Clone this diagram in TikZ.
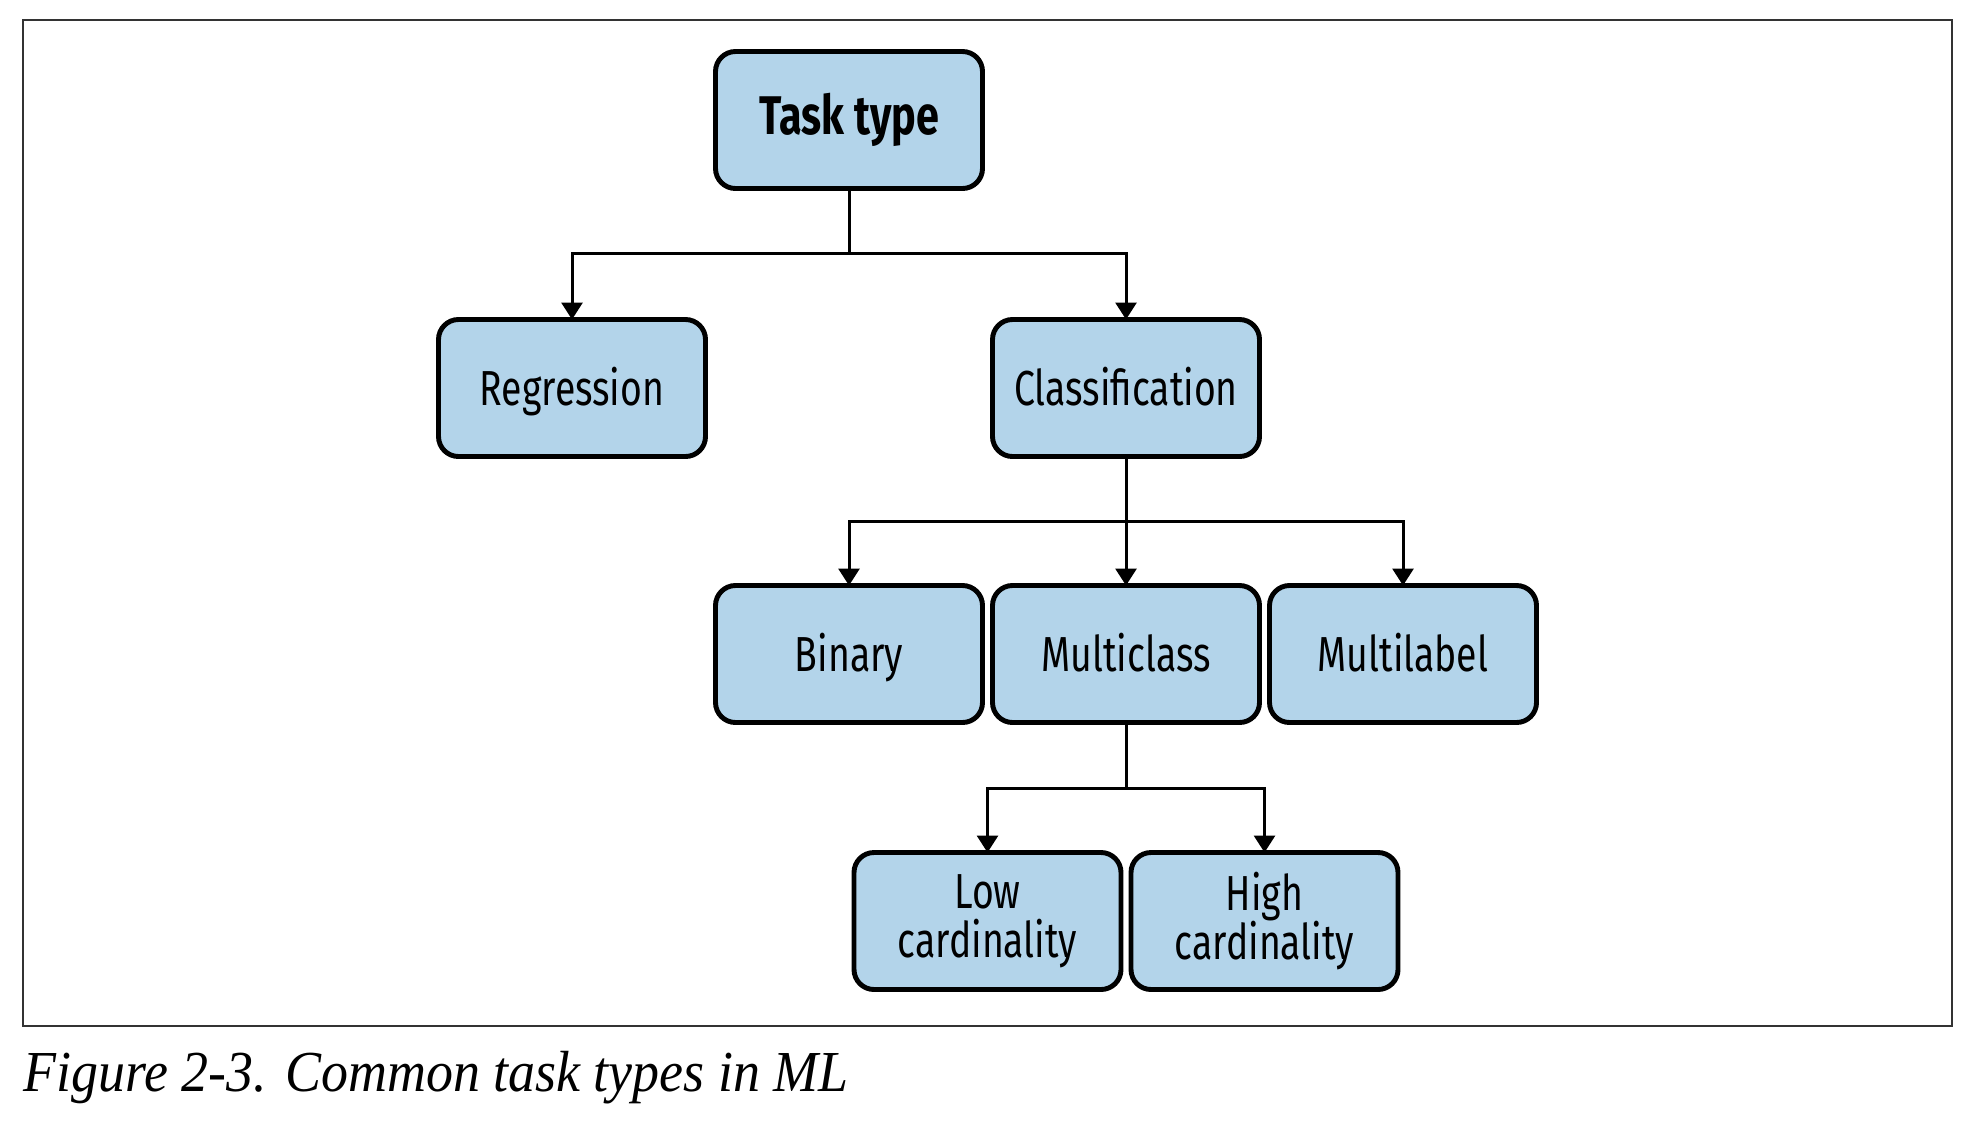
\documentclass[tikz,border=0pt]{standalone}
\usepackage{fontspec}
\usepackage{tikz}
\usetikzlibrary{arrows.meta, positioning}

\newfontfamily\boxfont[FakeStretch=0.76]{Fira Sans}
\newfontfamily\capfont[FakeStretch=0.93]{Liberation Serif}
\definecolor{boxblue}{RGB}{179,212,234}

\begin{document}
\begin{tikzpicture}[
    box/.style={rectangle, draw, fill=boxblue, line width=1.4pt, rounded corners=0.2cm, outer sep=0pt, minimum width=2.67cm, minimum height=1.37cm, align=center, text height=14pt, text depth=4pt, font=\boxfont\fontsize{14}{14}\selectfont},
    twobox/.style={box, text height=, text depth=},
    arrow/.style={-{Triangle[width=0.21cm, length=0.17cm]}, line width=0.85pt},
]
\useasboundingbox (0,0) rectangle (19.84,-11.28);

% ===== FRAME AND CAPTION =====
\draw[line width=0.6pt, black!80] (0.23,-0.20) rectangle (19.52,-10.26);
\node[anchor=base west, inner sep=0pt, font=\capfont\itshape\fontsize{16.5}{18}\selectfont] (caption) at (0.23,-10.91) {Figure 2-3. Common task types in ML};

% ===== TOP LEVELS =====
\node[box, text height=12.5pt, font=\boxfont\bfseries\fontsize{15.5}{16}\selectfont] (task) at (8.49,-1.20) {Task type};
\node[box, below left=1.31cm and 0.1cm of task] (reg) {Regression};
\node[box, below right=1.31cm and 0.1cm of task] (cls) {Classification};

\draw[arrow] (task.south) -- ++(0,-0.65) -| (reg.north);
\draw[arrow] (task.south) -- ++(0,-0.65) -| (cls.north);

% ===== CLASSIFICATION KINDS =====
\node[box, below=1.29cm of cls] (mclass) {Multiclass};
\node[box, left=0.1cm of mclass] (binary) {Binary};
\node[box, right=0.1cm of mclass] (mlabel) {Multilabel};

\draw[arrow] (cls.south) -- ++(0,-0.65) -| (binary.north);
\draw[arrow] (cls.south) -- (mclass.north);
\draw[arrow] (cls.south) -- ++(0,-0.65) -| (mlabel.north);

% ===== CARDINALITY =====
\node[twobox, below left=1.3cm and 0.05cm of mclass.south] (low) {Low\\cardinality};
\node[twobox, right=0.1cm of low] (high) {High\\cardinality};

\draw[arrow] (mclass.south) -- ++(0,-0.655) -| (low.north);
\draw[arrow] (mclass.south) -- ++(0,-0.655) -| (high.north);

\end{tikzpicture}
\end{document}
